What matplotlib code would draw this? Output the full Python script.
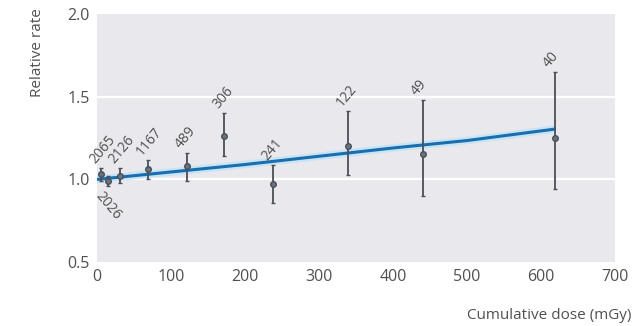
import matplotlib
matplotlib.use("Agg")
import matplotlib.pyplot as plt
import numpy as np

# Dose groups (mGy), relative rate estimates, 95% CI bounds and case counts
dose = [6, 15, 31, 69, 121, 172, 238, 339, 440, 619]
rate = [1.03, 0.99, 1.02, 1.065, 1.08, 1.265, 0.975, 1.205, 1.155, 1.25]
ci_low = [0.99, 0.96, 0.98, 1.00, 0.99, 1.14, 0.86, 1.025, 0.90, 0.945]
ci_high = [1.07, 1.02, 1.07, 1.12, 1.16, 1.40, 1.09, 1.415, 1.48, 1.65]
cases = ["2065", "2026", "2126", "1167", "489", "306", "241", "122", "49", "40"]

# Fitted dose-response trend
fit_dose = [0, 100, 200, 300, 400, 500, 620]
fit_rate = [1.0, 1.045, 1.09, 1.14, 1.19, 1.235, 1.305]

text_col = "#505050"
plt.rcParams["font.family"] = ["Open Sans", "DejaVu Sans"]

fig = plt.figure(figsize=(6.38, 3.26), dpi=100)
ax = fig.add_axes([0.152, 0.196, 0.812, 0.761])
ax.set_facecolor("#e9e9ed")
for s in ax.spines.values():
    s.set_visible(False)

ax.set_xlim(0, 700)
ax.set_ylim(0.5, 2.0)
ax.set_xticks(range(0, 701, 100))
ax.set_yticks([0.5, 1.0, 1.5, 2.0])
ax.set_yticklabels(["0.5", "1.0", "1.5", "2.0"])
ax.tick_params(length=0, labelsize=11.5, colors=text_col, pad=5)
for y in (1.0, 1.5):
    ax.axhline(y, color="white", lw=1.6, zorder=1)

# trend line with soft halo
ax.plot(fit_dose, fit_rate, color="#bfe3f5", lw=5.5, alpha=0.8, zorder=2,
        solid_capstyle="butt")
ax.plot(fit_dose, fit_rate, color="#1a6eb0", lw=2.2, zorder=3,
        solid_capstyle="butt")

d = np.array(dose)
r = np.array(rate)
err = [r - np.array(ci_low), np.array(ci_high) - r]
ax.errorbar(d, r, yerr=err, fmt="o", ms=4, color="#4a4f58",
            mfc="#6a7380", mec="#4a4f58", mew=1.0, ecolor="#4a4f58",
            elinewidth=1.3, capsize=1.5, capthick=1.3, zorder=4)

for x, lo, hi, lab in zip(dose, ci_low, ci_high, cases):
    if lab == "2026":
        ax.annotate(lab, (x, lo), xytext=(-3, -2), textcoords="offset points",
                    rotation=-50, ha="left", va="top", fontsize=10,
                    color=text_col, rotation_mode="anchor")
    else:
        ax.annotate(lab, (x, hi), xytext=(-2, 1), textcoords="offset points",
                    rotation=50, ha="left", va="bottom", fontsize=10,
                    color=text_col, rotation_mode="anchor")

fig.text(0.99, 0.008, "Cumulative dose (mGy)", ha="right", va="bottom",
         fontsize=11, color=text_col)
fig.text(0.058, 0.975, "Relative rate", ha="center", va="top", rotation=90,
         fontsize=11, color=text_col)

fig.savefig("out.png", dpi=100, facecolor="white")
